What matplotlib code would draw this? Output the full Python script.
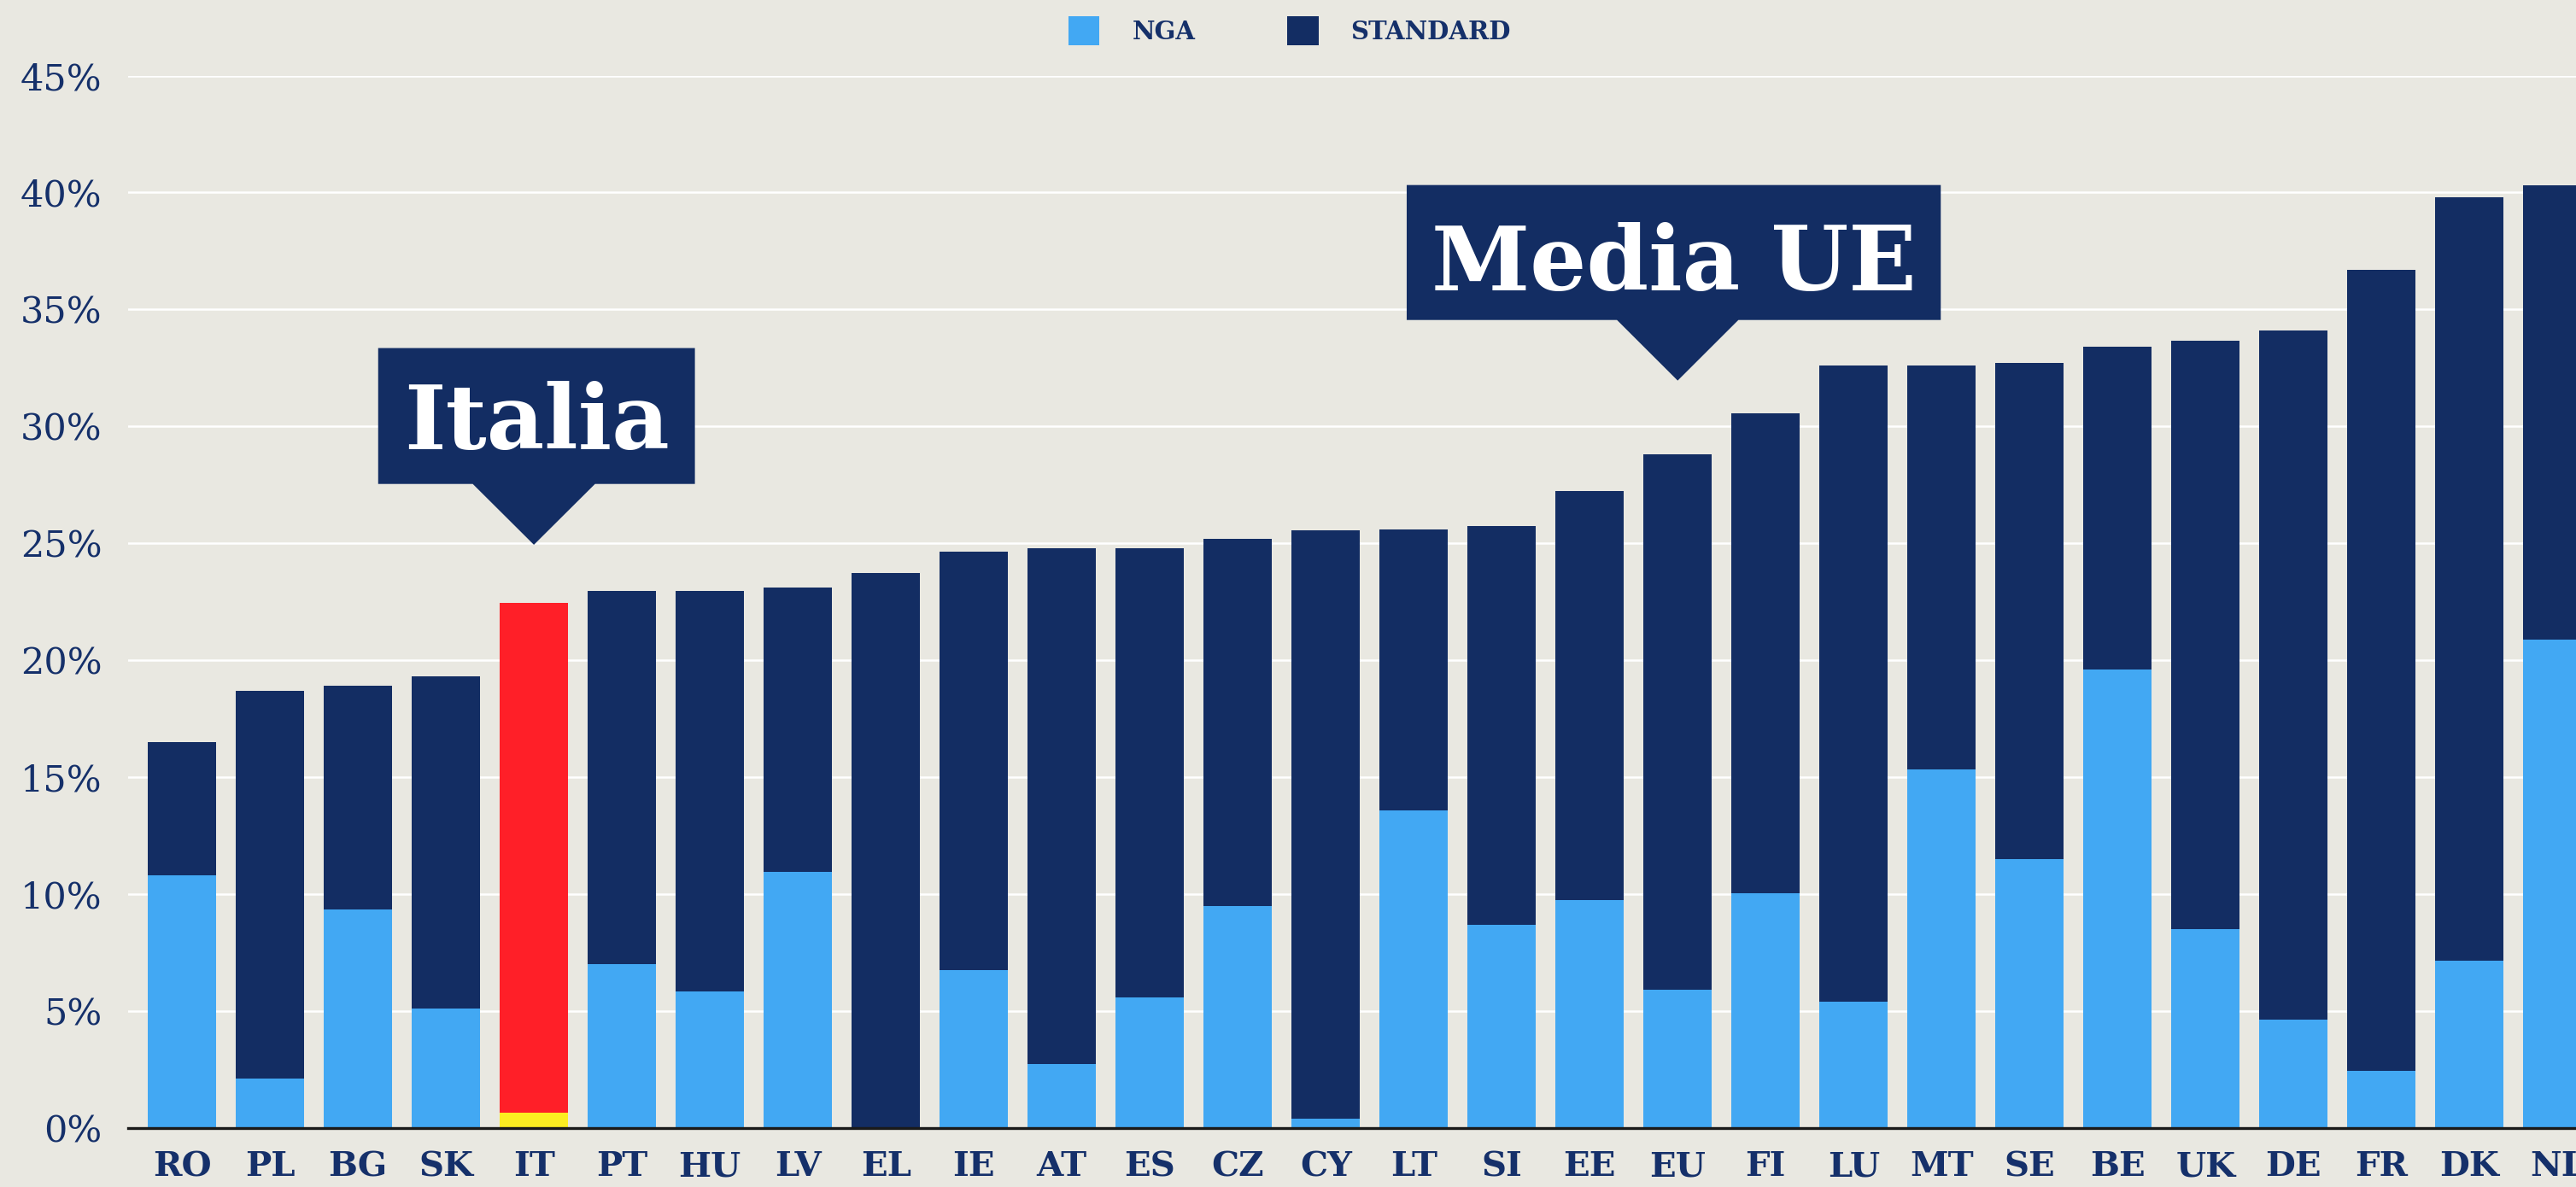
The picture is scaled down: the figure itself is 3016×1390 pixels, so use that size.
import matplotlib
matplotlib.use("Agg")
import matplotlib.pyplot as plt
from matplotlib.patches import Polygon, Patch

# ---------------- data ----------------
countries = ["RO", "PL", "BG", "SK", "IT", "PT", "HU", "LV", "EL", "IE", "AT", "ES", "CZ", "CY",
             "LT", "SI", "EE", "EU", "FI", "LU", "MT", "SE", "BE", "UK", "DE", "FR", "DK", "NL"]
nga = [10.8, 2.1, 9.35, 5.1, 0.65, 7.0, 5.85, 10.95, 0.0, 6.75, 2.75, 5.6, 9.5, 0.4,
       13.6, 8.7, 9.75, 5.9, 10.05, 5.4, 15.35, 11.5, 19.6, 8.5, 4.65, 2.45, 7.15, 20.9]
standard = [5.7, 16.6, 9.55, 14.2, 21.8, 15.95, 17.1, 12.15, 23.75, 17.9, 22.05, 19.2, 15.7, 25.15,
            12.0, 17.05, 17.5, 22.9, 20.5, 27.2, 17.25, 21.2, 13.8, 25.15, 29.45, 34.25, 32.65, 19.4]
yticks = [0, 5, 10, 15, 20, 25, 30, 35, 40, 45]
ytick_labels = ["0%", "5%", "10%", "15%", "20%", "25%", "30%", "35%", "40%", "45%"]
legend_labels = ["NGA", "STANDARD"]
highlight = "IT"
callouts = [("Italia", "IT"), ("Media UE", "EU")]

# ---------------- style ----------------
BG = "#E9E8E1"
NAVY = "#132D63"
LIGHT = "#42A8F3"
RED = "#FF1F28"
YELLOW = "#FCEE21"
TXT = "#15306A"
SERIF = ["DejaVu Serif"]

W, H = 3016, 1390
fig = plt.figure(figsize=(W / 100, H / 100), dpi=100, facecolor=BG)
ax = fig.add_axes([150 / W, 1 - 1321 / H, (W - 150) / W, (1321 - 88.5) / H])
ax.set_facecolor(BG)

x = list(range(len(countries)))
nga_colors = [YELLOW if c == highlight else LIGHT for c in countries]
std_colors = [RED if c == highlight else NAVY for c in countries]

b1 = ax.bar(x, nga, width=0.777, color=nga_colors, zorder=2, linewidth=0)
b2 = ax.bar(x, standard, bottom=nga, width=0.777, color=std_colors, zorder=2, linewidth=0)

ax.set_xlim(-0.612, 27.21)
ax.set_ylim(0, 45)
ax.set_yticks(yticks)
ax.set_yticklabels(ytick_labels, fontsize=31, color=TXT, family=SERIF)
ax.set_xticks(x)
ax.set_xticklabels(countries, fontsize=29, color=TXT, family=SERIF, fontweight="bold")
ax.tick_params(axis="y", length=0, pad=22)
ax.tick_params(axis="x", length=0, pad=19)
ax.yaxis.grid(True, color="white", linewidth=1.8, zorder=0)
ax.set_axisbelow(True)
for s in ["top", "left", "right"]:
    ax.spines[s].set_visible(False)
ax.spines["bottom"].set_color("#1a1a1a")
ax.spines["bottom"].set_linewidth(2.4)
ax.spines["bottom"].set_zorder(3)

# ---------------- callouts ----------------
callout_geom = {
    "Italia": dict(left=2.23, right=5.83, top=33.35, bottom=27.54, tip=24.94, half=0.695, base=29.04),
    "Media UE": dict(left=13.92, right=19.99, top=40.32, bottom=34.55, tip=31.96, half=0.69, base=35.83),
}
for label, cc in callouts:
    g = callout_geom[label]
    tx = countries.index(cc)
    pts = [(g["left"], g["top"]), (g["right"], g["top"]), (g["right"], g["bottom"]),
           (tx + g["half"], g["bottom"]), (tx, g["tip"]), (tx - g["half"], g["bottom"]),
           (g["left"], g["bottom"])]
    ax.add_patch(Polygon(pts, closed=True, facecolor=NAVY, edgecolor="none", zorder=5))
    ax.text((g["left"] + g["right"]) / 2, g["base"], label, ha="center", va="baseline",
            fontsize=75, fontweight="bold", color="white", family=SERIF, zorder=6)

# ---------------- legend ----------------
handles = [Patch(facecolor=LIGHT, edgecolor="none"), Patch(facecolor=NAVY, edgecolor="none")]
leg = fig.legend(handles, legend_labels, loc="center", bbox_to_anchor=(1510 / W, 1 - 36 / H),
                 ncol=2, frameon=False, handlelength=1.25, handleheight=1.4,
                 handletextpad=1.3, columnspacing=3.7,
                 prop={"family": SERIF, "weight": "bold", "size": 21})
for t in leg.get_texts():
    t.set_color(TXT)

fig.savefig("out.png", dpi=100, facecolor=BG)
